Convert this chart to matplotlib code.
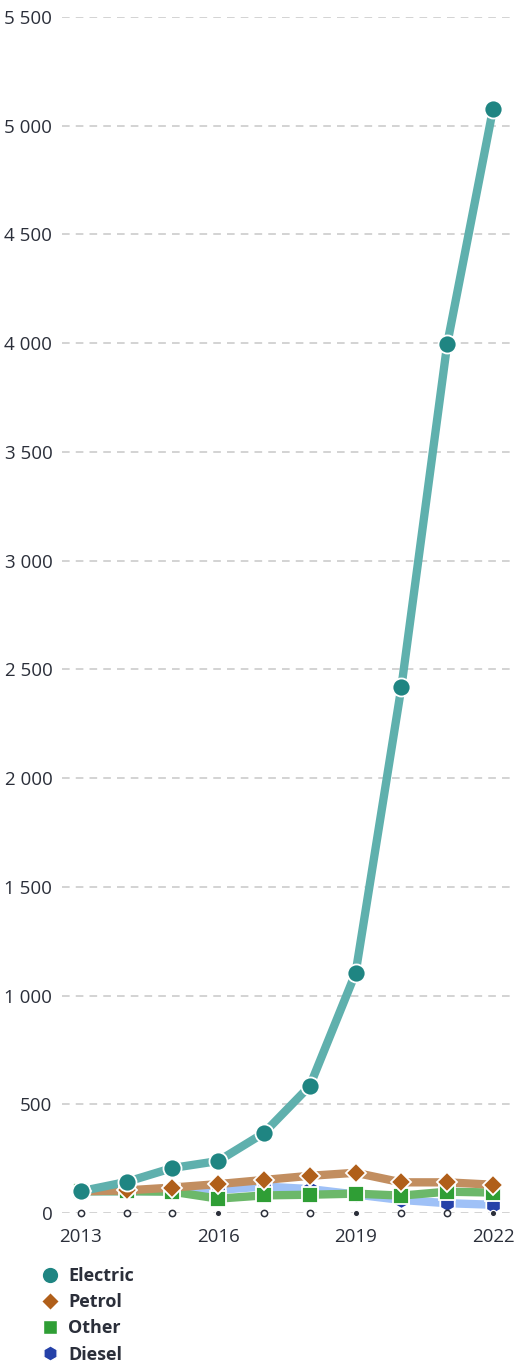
import matplotlib.pyplot as plt
from matplotlib.lines import Line2D
from matplotlib.ticker import FuncFormatter

plt.rcParams['font.family'] = ['Open Sans', 'DejaVu Sans']

years = [2013, 2014, 2015, 2016, 2017, 2018, 2019, 2020, 2021, 2022]
electric = [100, 143, 207, 239, 368, 584, 1104, 2419, 3996, 5077]
petrol = [100, 104, 117, 133, 152, 171, 185, 141, 141, 130]
other = [100, 100, 98, 66, 81, 84, 89, 80, 98, 94]
diesel = [100, 100, 100, 106, 122, 110, 85, 60, 45, 38]

series = [
    ("Diesel", diesel, "#9fc1f7", "#2541a8", "h", 12),
    ("Other", other, "#6cb86a", "#2f9e35", "s", 11),
    ("Petrol", petrol, "#c28e60", "#b05f1a", "D", 10),
    ("Electric", electric, "#5fb0ad", "#1f8582", "o", 13),
]
hollow_years = [2013, 2014, 2015, 2017, 2018, 2020, 2021]
solid_years = [2016, 2019, 2022]

fig = plt.figure(figsize=(5.15, 13.61), dpi=100)
ax = fig.add_axes([62 / 515, 1 - 1213 / 1361, 1 - 62 / 515, 1196 / 1361])

for name, vals, lc, mc, mk, ms in series:
    ax.plot(years, vals, color=lc, lw=6, solid_joinstyle="round", solid_capstyle="round",
            clip_on=False, zorder=2)
for name, vals, lc, mc, mk, ms in series:
    ax.plot(years, vals, ls="none", marker=mk, ms=ms, mfc=mc, mec="white", mew=1.3,
            clip_on=False, zorder=3)

ax.plot(hollow_years, [0] * len(hollow_years), ls="none", marker="o", ms=4.5,
        mfc="white", mec="#2b2f3a", mew=1.1, clip_on=False, zorder=4)
ax.plot(solid_years, [0] * len(solid_years), ls="none", marker="o", ms=4.5,
        mfc="#2b2f3a", mec="white", mew=0.8, clip_on=False, zorder=4)

ax.set_xlim(2012.59, 2022.48)
ax.set_ylim(0, 5500)
ax.set_yticks(range(0, 5501, 500))
ax.yaxis.set_major_formatter(FuncFormatter(lambda v, p: f"{int(v):,}".replace(",", " ")))
ax.set_xticks([2013, 2016, 2019, 2022])
ax.grid(axis="y", color="#c8c8c8", ls=(0, (5, 4)), lw=1.1)
ax.set_axisbelow(True)
for s in ax.spines.values():
    s.set_visible(False)
ax.tick_params(axis="y", length=0, pad=7, labelsize=13.5, labelcolor="#2b2f3a")
ax.tick_params(axis="x", length=0, pad=11, labelsize=13.5, labelcolor="#2b2f3a")

handles = [Line2D([], [], ls="none", marker=mk, ms=ms - 1, mfc=mc, mec="white", mew=1)
           for name, vals, lc, mc, mk, ms in series[::-1]]
labels = [s[0] for s in series[::-1]]
leg = fig.legend(handles, labels, loc="upper left", bbox_to_anchor=(34 / 515, 1 - 1260 / 1361),
                 frameon=False, handlelength=1.0, handletextpad=0.5, labelspacing=0.45,
                 borderaxespad=0, prop={"weight": "bold", "size": 13})
for t in leg.get_texts():
    t.set_color("#2b2f3a")

fig.savefig("out.png", dpi=100)
